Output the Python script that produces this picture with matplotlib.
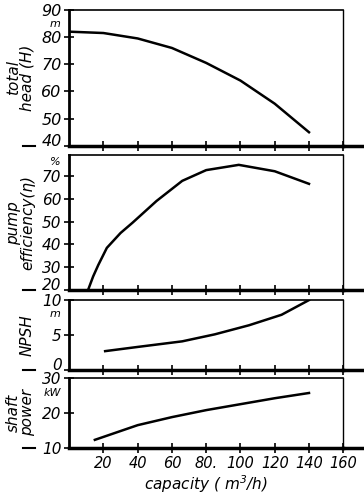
import numpy as np
import matplotlib.pyplot as plt

# values
head_q = [0, 20, 40, 60, 80, 100, 120, 140]
head_h = [82, 81.5, 79.5, 76, 70.5, 64, 55.5, 45]

eff_q = [11, 14, 17, 22, 30, 37, 51, 66, 80, 99, 120, 140]
eff_n = [20, 26, 31, 38.5, 45, 49.5, 59, 67.8, 72.5, 74.8, 72, 66.5]

npsh_q = [21, 40, 66, 85, 105, 124, 140]
npsh_v = [2.7, 3.3, 4.1, 5.1, 6.4, 7.9, 10]

pow_q = [15, 40, 60, 80, 100, 120, 140]
pow_p = [12.3, 16.5, 18.8, 20.8, 22.5, 24.2, 25.7]

x_ticks = [20, 40, 60, 80, 100, 120, 140, 160]
x_labels = ['20', '40', '60', '80.', '100', '120', '140', '160']

plt.rcParams['font.family'] = 'DejaVu Sans'
plt.rcParams['font.style'] = 'italic'

fig = plt.figure(figsize=(3.64, 4.96), dpi=100)
left, width = 0.19, 0.753

panels = [
    # bottom, height, x, y, ylim, yticks, ylabel, unit, unit offset px, tick fontsize
    (0.706, 0.274, head_q, head_h, (40, 90), [40, 50, 60, 70, 80, 90], 'total\nhead (H)', 'm', 14, 11.5),
    (0.415, 0.272, eff_q, eff_n, (20, 79), [20, 30, 40, 50, 60, 70], 'pump\nefficiency(η)', '%', 7, 11),
    (0.254, 0.141, npsh_q, npsh_v, (0, 10), [0, 5, 10], 'NPSH', 'm', 14, 11),
    (0.097, 0.141, pow_q, pow_p, (10, 30), [10, 20, 30], 'shaft\npower', 'kW', 15, 11),
]

axes = []
for i, (b, h, xs, ys, yl, yt, lab, unit, off, fs) in enumerate(panels):
    ax = fig.add_axes([left, b, width, h])
    ax.plot(xs, ys, color='black', lw=1.8)
    ax.set_xlim(0, 160)
    ax.set_ylim(*yl)
    ax.set_yticks(yt)
    ax.set_xticks(x_ticks)
    ax.tick_params(axis='both', direction='inout', length=7, width=1.2,
                   colors='black', labelsize=fs, pad=2)
    ax.spines['left'].set_linewidth(2)
    ax.spines['bottom'].set_linewidth(2.5)
    ax.spines['top'].set_linewidth(1.2)
    ax.spines['right'].set_linewidth(1)
    # bottom rule runs to the page edge, with a dash on the left
    ax.plot([1.0, 1.08], [0, 0], transform=ax.transAxes, color='black',
            lw=2.5, clip_on=False)
    ax.plot([-0.17, -0.125], [0, 0], transform=ax.transAxes, color='black',
            lw=1.5, clip_on=False)
    ax.set_ylabel(lab, fontsize=11, linespacing=0.9)
    ax.text(-0.03, 1.0 - off / (h * 496), unit, transform=ax.transAxes,
            ha='right', va='center', fontsize=8)
    # lowest label of the upper stacked panels sits just above its tick
    if i < 3:
        ax.get_yticklabels()[0].set_va('baseline')
        ax.tick_params(axis='x', labelbottom=False)
    else:
        ax.set_xticklabels(x_labels, fontsize=10.5)
        ax.set_xlabel('capacity ( m$^3$/h)', fontsize=11, labelpad=2)
    axes.append(ax)

# align y labels in a common column
for ax in axes:
    ax.yaxis.set_label_coords(-0.125, 0.5)

fig.savefig('out.png', dpi=100)
